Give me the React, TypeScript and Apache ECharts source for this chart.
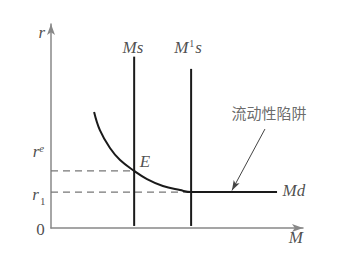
import React, { useEffect, useRef } from "react";
import * as echarts from "echarts";

// Money supply lines (x position, bottom, top)
const msX = 33;
const m1sX = 55.6;
const msTop = 84;
const m1sTop = 78;
const lineBottom = 1;

// Interest rate levels
const rE = 28;
const r1 = 17.6;

// Money demand curve Md (x, y)
const mdX = [17.1, 19.4, 23.4, 27.4, 33, 38.1, 44.4, 51.2, 55.6, 89.7];
const mdY = [56.9, 48.0, 39.2, 33.3, 28, 24.0, 20.6, 18.6, 17.6, 17.6];

// Liquidity trap pointer (from, to)
const trapArrowFrom = [84.9, 48.5];
const trapArrowTo = [71.8, 18.4];

// Text labels
const labelText = [
  "{i|r}",
  "{i|Ms}",
  "{i|M}{sup|1}{i|s}",
  "{i|r}{sup2|e}",
  "{i|E}",
  "{i|r}{sub|1}",
  "{n|0}",
  "{i|Md}",
  "{i|M}",
  "{cn|流动性陷阱}",
];
const labelX = [-3.6, 32.5, 54.4, -5.0, 37.3, -4.8, -4.2, 96.4, 97.2, 86.5];
const labelY = [95.6, 88.7, 88.7, 37.3, 32.8, 16.2, -0.5, 18.6, -4.9, 56.4];

export default function App() {
  const ref = useRef<HTMLDivElement>(null);
  useEffect(() => {
    if (!ref.current) return;
    const chart = echarts.init(ref.current, undefined, { renderer: "svg" });
    const serif = "Liberation Serif";
    const rich = {
      i: { fontFamily: serif, fontStyle: "italic", fontSize: 17, color: "#222" },
      n: { fontFamily: serif, fontSize: 17, color: "#222" },
      sup: { fontFamily: serif, fontSize: 10, color: "#222", verticalAlign: "top", padding: [0, 1, 8, 1] },
      sup2: { fontFamily: serif, fontStyle: "italic", fontSize: 11, color: "#222", padding: [0, 0, 8, 0] },
      sub: { fontFamily: serif, fontSize: 11, color: "#222", padding: [12, 0, 0, 1] },
      cn: { fontFamily: "Noto Sans CJK SC", fontSize: 15, color: "#444" },
    };
    const solid = { color: "#1a1a1a", width: 2 };
    const dashed = { color: "#777", width: 1.2, type: [7, 5] as any };
    chart.setOption({
      animation: false,
      grid: { left: 51, top: 24, right: 48, bottom: 47 },
      xAxis: {
        type: "value",
        min: 0,
        max: 100,
        axisLine: { lineStyle: { color: "#888", width: 1.5 }, symbol: ["none", "arrow"], symbolSize: [6, 11] },
        axisTick: { show: false },
        axisLabel: { show: false },
        splitLine: { show: false },
      },
      yAxis: {
        type: "value",
        min: 0,
        max: 100,
        axisLine: { lineStyle: { color: "#888", width: 1.5 }, symbol: ["none", "arrow"], symbolSize: [6, 11] },
        axisTick: { show: false },
        axisLabel: { show: false },
        splitLine: { show: false },
      },
      series: [
        {
          type: "line",
          data: [[0, rE], [msX, rE]],
          symbol: "none",
          lineStyle: dashed,
        },
        {
          type: "line",
          data: [[0, r1], [m1sX, r1]],
          symbol: "none",
          lineStyle: dashed,
        },
        {
          type: "line",
          data: [[msX, lineBottom], [msX, msTop]],
          symbol: "none",
          lineStyle: solid,
        },
        {
          type: "line",
          data: [[m1sX, lineBottom], [m1sX, m1sTop]],
          symbol: "none",
          lineStyle: solid,
        },
        {
          type: "line",
          data: mdX.map((x, i) => [x, mdY[i]]),
          symbol: "none",
          smooth: 0.4,
          lineStyle: solid,
          markLine: {
            silent: true,
            symbol: ["none", "arrow"],
            symbolSize: [5, 10],
            label: { show: false },
            lineStyle: { color: "#444", width: 1, type: "solid" },
            data: [[{ coord: trapArrowFrom }, { coord: trapArrowTo }]],
          },
        },
        {
          type: "scatter",
          clip: false,
          symbolSize: 0,
          silent: true,
          data: labelText.map((t, i) => ({
            value: [labelX[i], labelY[i]],
            label: { show: true, position: "inside", formatter: t, rich },
          })),
        },
      ],
    });
    return () => chart.dispose();
  }, []);
  return <div ref={ref} style={{ width: 351, height: 275, margin: -8 }} />;
}
